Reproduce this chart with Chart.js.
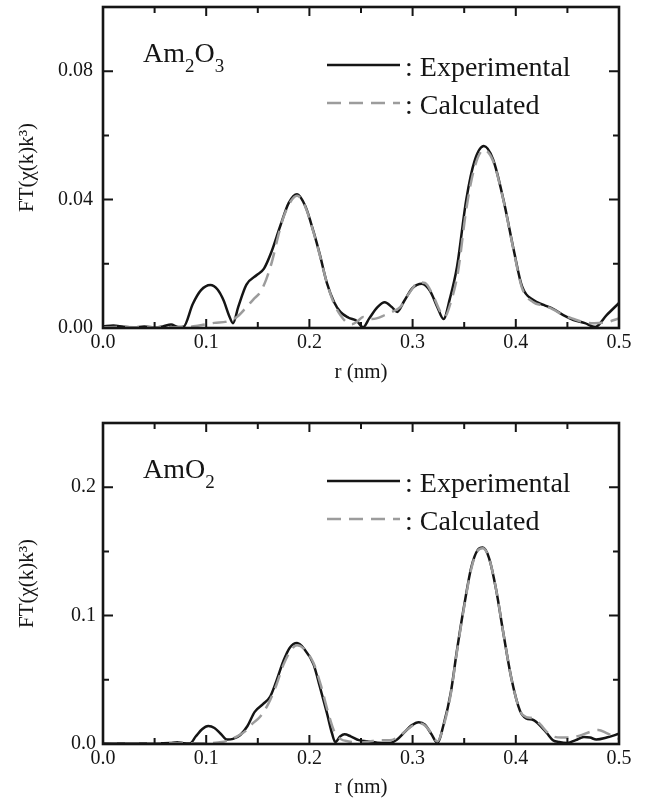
<!DOCTYPE html>
<html>
<head>
<meta charset="utf-8">
<script src="https://cdn.jsdelivr.net/npm/chart.js@4"></script>
<style>
  body { margin: 0; background: #fff; overflow: hidden; }
  #wrap { position: relative; width: 645px; height: 803px; overflow: hidden; }
  canvas { position: absolute; left: 0; }
</style>
</head>
<body>
<div id="wrap">
  <canvas id="top_chart" width="645" height="415" style="top:-15px"></canvas>
  <canvas id="bottom_chart" width="645" height="403" style="top:400px"></canvas>
</div>
<script>
// ---- data (r in nm) ----
const top_exp_r = [0.000, 0.010, 0.020, 0.030, 0.040, 0.050, 0.058, 0.066, 0.073, 0.078, 0.087, 0.095, 0.104, 0.111, 0.117, 0.122, 0.126, 0.131, 0.139, 0.149, 0.156, 0.163, 0.172, 0.180, 0.188, 0.196, 0.204, 0.210, 0.217, 0.224, 0.230, 0.238, 0.246, 0.252, 0.258, 0.266, 0.273, 0.280, 0.285, 0.292, 0.300, 0.309, 0.317, 0.324, 0.330, 0.336, 0.343, 0.352, 0.360, 0.369, 0.378, 0.388, 0.398, 0.406, 0.417, 0.427, 0.436, 0.446, 0.456, 0.467, 0.477, 0.488, 0.500];
const top_exp_v = [0.0005, 0.0008, 0.0004, 0.0002, 0.0005, 0.0002, 0.0005, 0.0011, 0.0003, 0.0004, 0.0075, 0.0118, 0.0134, 0.0120, 0.0085, 0.0040, 0.0015, 0.0065, 0.0135, 0.0165, 0.0185, 0.0235, 0.0320, 0.0390, 0.0417, 0.0380, 0.0300, 0.0230, 0.0140, 0.0080, 0.0050, 0.0032, 0.0022, 0.0002, 0.0030, 0.0065, 0.0080, 0.0065, 0.0050, 0.0085, 0.0125, 0.0138, 0.0115, 0.0065, 0.0028, 0.0090, 0.0190, 0.0400, 0.0520, 0.0567, 0.0525, 0.0400, 0.0243, 0.0130, 0.0087, 0.0072, 0.0060, 0.0040, 0.0025, 0.0015, 0.0003, 0.0040, 0.0078];

const top_calc_r = [0.000, 0.020, 0.040, 0.060, 0.080, 0.090, 0.097, 0.108, 0.120, 0.130, 0.139, 0.146, 0.152, 0.158, 0.164, 0.170, 0.175, 0.182, 0.188, 0.196, 0.204, 0.210, 0.217, 0.224, 0.230, 0.236, 0.241, 0.247, 0.252, 0.258, 0.265, 0.273, 0.280, 0.288, 0.297, 0.306, 0.312, 0.320, 0.327, 0.331, 0.337, 0.344, 0.352, 0.360, 0.369, 0.378, 0.388, 0.398, 0.406, 0.417, 0.427, 0.436, 0.446, 0.456, 0.466, 0.476, 0.488, 0.500];
const top_calc_v = [0.0002, 0.0003, 0.0002, 0.0002, 0.0003, 0.0006, 0.0010, 0.0016, 0.0020, 0.0035, 0.0065, 0.0090, 0.0110, 0.0150, 0.0210, 0.0290, 0.0346, 0.0395, 0.0412, 0.0378, 0.0298, 0.0228, 0.0140, 0.0075, 0.0040, 0.0018, 0.0012, 0.0022, 0.0034, 0.0028, 0.0030, 0.0040, 0.0050, 0.0065, 0.0110, 0.0142, 0.0140, 0.0100, 0.0050, 0.0035, 0.0080, 0.0175, 0.0370, 0.0500, 0.0555, 0.0520, 0.0398, 0.0240, 0.0125, 0.0080, 0.0070, 0.0058, 0.0040, 0.0028, 0.0018, 0.0015, 0.0018, 0.0030];

const bot_exp_r = [0.000, 0.020, 0.040, 0.055, 0.065, 0.072, 0.078, 0.084, 0.090, 0.096, 0.102, 0.108, 0.114, 0.120, 0.126, 0.133, 0.140, 0.147, 0.155, 0.162, 0.168, 0.175, 0.181, 0.188, 0.195, 0.204, 0.210, 0.217, 0.222, 0.225, 0.230, 0.234, 0.240, 0.248, 0.256, 0.266, 0.278, 0.285, 0.292, 0.299, 0.306, 0.312, 0.318, 0.324, 0.330, 0.337, 0.343, 0.350, 0.357, 0.363, 0.368, 0.374, 0.381, 0.388, 0.396, 0.404, 0.410, 0.417, 0.424, 0.430, 0.436, 0.442, 0.450, 0.458, 0.466, 0.472, 0.478, 0.488, 0.500];
const bot_exp_v = [0.0005, 0.0004, 0.0003, 0.0006, 0.0008, 0.0013, 0.0006, 0.0003, 0.0060, 0.0115, 0.0140, 0.0125, 0.0080, 0.0035, 0.0040, 0.0070, 0.0140, 0.0250, 0.0310, 0.0370, 0.0490, 0.0650, 0.0750, 0.0786, 0.0740, 0.0620, 0.0450, 0.0240, 0.0080, 0.0015, 0.0060, 0.0075, 0.0060, 0.0030, 0.0022, 0.0010, 0.0008, 0.0035, 0.0090, 0.0145, 0.0170, 0.0150, 0.0080, 0.0010, 0.0150, 0.0400, 0.0730, 0.1080, 0.1380, 0.1510, 0.1530, 0.1450, 0.1200, 0.0860, 0.0500, 0.0260, 0.0200, 0.0187, 0.0140, 0.0086, 0.0030, 0.0015, 0.0008, 0.0030, 0.0055, 0.0050, 0.0035, 0.0050, 0.0080];

const bot_calc_r = [0.000, 0.020, 0.040, 0.060, 0.075, 0.090, 0.105, 0.115, 0.122, 0.130, 0.138, 0.145, 0.152, 0.160, 0.168, 0.175, 0.182, 0.188, 0.195, 0.204, 0.211, 0.218, 0.224, 0.230, 0.238, 0.248, 0.258, 0.268, 0.278, 0.287, 0.296, 0.305, 0.312, 0.318, 0.324, 0.330, 0.337, 0.343, 0.350, 0.357, 0.363, 0.368, 0.374, 0.381, 0.388, 0.396, 0.404, 0.410, 0.417, 0.424, 0.430, 0.436, 0.444, 0.452, 0.462, 0.472, 0.480, 0.488, 0.496, 0.500];
const bot_calc_v = [0.0002, 0.0002, 0.0003, 0.0005, 0.0008, 0.0005, 0.0008, 0.0015, 0.0030, 0.0060, 0.0100, 0.0160, 0.0210, 0.0310, 0.0460, 0.0620, 0.0730, 0.0770, 0.0740, 0.0630, 0.0460, 0.0250, 0.0100, 0.0040, 0.0020, 0.0010, 0.0020, 0.0030, 0.0030, 0.0060, 0.0120, 0.0160, 0.0145, 0.0085, 0.0020, 0.0140, 0.0390, 0.0720, 0.1070, 0.1370, 0.1505, 0.1525, 0.1450, 0.1200, 0.0860, 0.0500, 0.0260, 0.0210, 0.0200, 0.0150, 0.0095, 0.0060, 0.0050, 0.0050, 0.0065, 0.0095, 0.0110, 0.0085, 0.0055, 0.0040];

const x_ticks = [0, 0.1, 0.2, 0.3, 0.4, 0.5];
const x_minor = [0.05, 0.15, 0.25, 0.35, 0.45];
const top_y_ticks = [0, 0.04, 0.08];
const top_y_minor = [0.02, 0.06];
const bot_y_ticks = [0, 0.1, 0.2];
const bot_y_minor = [0.05, 0.15];

const series_labels = [": Experimental", ": Calculated"];
const FONT = "'Liberation Serif', 'Times New Roman', serif";

function pairs(rs, vs) {
  return rs.map((r, i) => ({ x: r, y: vs[i] }));
}

// frame, inward ticks, legend and sample name
const decorPlugin = {
  id: "decor",
  afterDatasetsDraw(chart, args, opts) {
    const { ctx, chartArea: a, scales } = chart;
    const xs = scales.x, ys = scales.y;
    ctx.save();
    ctx.strokeStyle = "#151515";
    ctx.lineCap = "butt";

    ctx.lineWidth = 2;
    const tick = (vals, len) => {
      vals.forEach((v) => {
        const px = xs.getPixelForValue(v);
        ctx.beginPath();
        ctx.moveTo(px, a.bottom); ctx.lineTo(px, a.bottom - len);
        ctx.moveTo(px, a.top); ctx.lineTo(px, a.top + len);
        ctx.stroke();
      });
    };
    const ytick = (vals, len) => {
      vals.forEach((v) => {
        const py = ys.getPixelForValue(v);
        ctx.beginPath();
        ctx.moveTo(a.left, py); ctx.lineTo(a.left + len, py);
        ctx.moveTo(a.right, py); ctx.lineTo(a.right - len, py);
        ctx.stroke();
      });
    };
    tick(x_ticks, 9);
    tick(x_minor, 6);
    ytick(opts.yMajor, 10);
    ytick(opts.yMinor, 6);

    ctx.lineWidth = 2.6;
    ctx.strokeRect(a.left, a.top, a.right - a.left, a.bottom - a.top);

    // legend
    ctx.font = "28px " + FONT;
    ctx.fillStyle = "#151515";
    ctx.textBaseline = "alphabetic";
    chart.data.datasets.forEach((ds, i) => {
      const ly = a.top + 58 + i * 38;
      ctx.save();
      ctx.strokeStyle = ds.borderColor;
      ctx.lineWidth = ds.borderWidth;
      ctx.setLineDash(ds.borderDash || []);
      ctx.beginPath();
      ctx.moveTo(327, ly); ctx.lineTo(400, ly);
      ctx.stroke();
      ctx.restore();
      ctx.fillText(series_labels[i], 405, ly + 11);
    });

    // sample name with subscripts
    let nx = 143;
    const ny = a.top + 55;
    opts.name.forEach((part) => {
      ctx.font = (part.sub ? "19px " : "28px ") + FONT;
      ctx.fillText(part.t, nx, part.sub ? ny + 10 : ny);
      nx += ctx.measureText(part.t).width;
    });
    ctx.restore();
  },
};

function make_chart(id, exp, calc, opt) {
  return new Chart(document.getElementById(id), {
    type: "line",
    data: {
      datasets: [
        {
          label: "Experimental",
          data: exp,
          borderColor: "#151515",
          borderWidth: 2.5,
          pointRadius: 0,
          cubicInterpolationMode: "monotone",
          order: 1,
        },
        {
          label: "Calculated",
          data: calc,
          borderColor: "#9c9c9c",
          borderWidth: 2.5,
          borderDash: [14, 8],
          pointRadius: 0,
          cubicInterpolationMode: "monotone",
          order: 0,
        },
      ],
    },
    options: {
      responsive: false,
      animation: false,
      devicePixelRatio: 1,
      layout: { padding: { top: opt.top, right: 26, left: 0, bottom: 0 } },
      plugins: {
        legend: { display: false },
        tooltip: { enabled: false },
        decor: { yMajor: opt.yMajor, yMinor: opt.yMinor, name: opt.name },
      },
      scales: {
        x: {
          type: "linear",
          min: 0,
          max: 0.5,
          grid: { display: false, drawTicks: false },
          border: { display: false },
          afterBuildTicks: (s) => { s.ticks = x_ticks.map((v) => ({ value: v })); },
          afterFit: (s) => { s.height = opt.xHeight; },
          ticks: {
            color: "#151515",
            padding: 3,
            maxRotation: 0,
            font: { family: FONT, size: 20 },
            callback: (v) => v.toFixed(1),
          },
          title: {
            display: true,
            text: "r (nm)",
            color: "#151515",
            font: { family: FONT, size: 21 },
            padding: { top: 0, bottom: opt.titlePad },
          },
        },
        y: {
          type: "linear",
          min: 0,
          max: opt.yMax,
          grid: { display: false, drawTicks: false },
          border: { display: false },
          afterBuildTicks: (s) => { s.ticks = opt.yMajor.map((v) => ({ value: v })); },
          afterFit: (s) => { s.width = 103; },
          ticks: {
            color: "#151515",
            padding: opt.yPad,
            font: { family: FONT, size: 20 },
            callback: (v) => v.toFixed(opt.digits),
          },
          title: {
            display: true,
            text: "FT(\u03c7(k)k\u00b3)",
            color: "#151515",
            font: { family: FONT, size: 21 },
            padding: { top: 15, bottom: 0 },
          },
        },
      },
    },
    plugins: [decorPlugin],
  });
}

make_chart("top_chart", pairs(top_exp_r, top_exp_v), pairs(top_calc_r, top_calc_v), {
  top: 22,
  xHeight: 72,
  titlePad: 15,
  yMax: 0.1,
  yPad: 10,
  digits: 2,
  yMajor: top_y_ticks,
  yMinor: top_y_minor,
  name: [{ t: "Am" }, { t: "2", sub: true }, { t: "O" }, { t: "3", sub: true }],
});

make_chart("bottom_chart", pairs(bot_exp_r, bot_exp_v), pairs(bot_calc_r, bot_calc_v), {
  top: 23,
  xHeight: 59,
  titlePad: 3,
  yMax: 0.25,
  yPad: 7,
  digits: 1,
  yMajor: bot_y_ticks,
  yMinor: bot_y_minor,
  name: [{ t: "AmO" }, { t: "2", sub: true }],
});
</script>
</body>
</html>
